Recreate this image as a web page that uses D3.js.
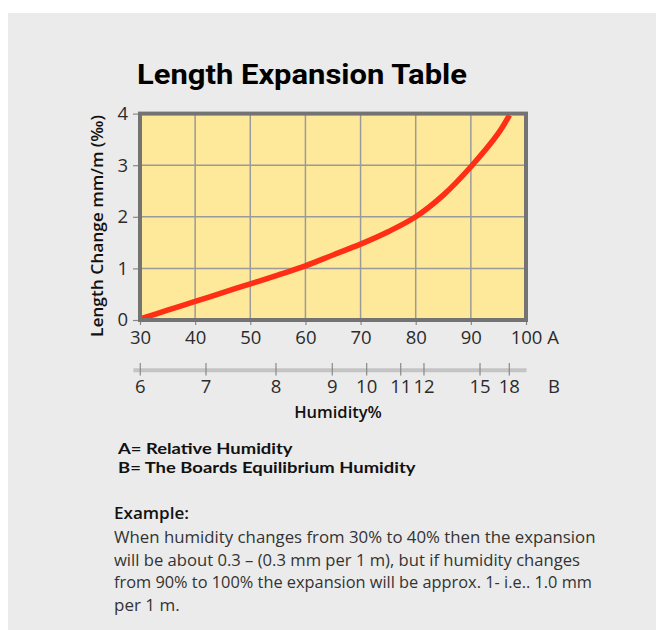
<!DOCTYPE html>
<html>
<head>
<meta charset="utf-8">
<script src="https://cdn.jsdelivr.net/npm/d3@7"></script>
<style>
  html, body { margin: 0; padding: 0; background: #ffffff; }
  svg { display: block; }
</style>
</head>
<body>
<svg id="chart" width="656" height="630"></svg>
<script>
// ---- data ----
const titleText = "Length Expansion Table";
const yLabelText = "Length Change mm/m (‰)";
const xLabelText = "Humidity%";
const relHumidity = [30, 35, 40, 45, 50, 55, 60, 65, 70, 75, 80, 85, 90, 95, 97];
const lengthChange = [0.02, 0.19, 0.36, 0.53, 0.70, 0.87, 1.05, 1.26, 1.47, 1.71, 2.00, 2.42, 2.97, 3.62, 3.97];
const aTicks = [30, 40, 50, 60, 70, 80, 90, 100];
const yTicks = [0, 1, 2, 3, 4];
const bTickLabels = [6, 7, 8, 9, 10, 11, 12, 15, 18];
const bTickAtRH = [30.05, 41.97, 54.66, 64.87, 71.11, 77.28, 81.5, 91.66, 96.97];
const bAxisRange = [28.8, 100.1];
const legendLines = ["A= Relative Humidity", "B= The Boards Equilibrium Humidity"];
const exampleTitle = "Example:";
const exampleLines = [
  "When humidity changes from 30% to 40% then the expansion",
  "will be about 0.3 – (0.3 mm per 1 m), but if humidity changes",
  "from 90% to 100% the expansion will be approx. 1- i.e.. 1.0 mm",
  "per 1 m."
];

// ---- drawing ----
const svg = d3.select("#chart");
const tickFont = "'Open Sans', sans-serif";

svg.append("rect").attr("x", 8).attr("y", 13).attr("width", 648).attr("height", 617).attr("fill", "#ebebeb");

const x = d3.scaleLinear().domain([30, 100]).range([140, 526]);
const y = d3.scaleLinear().domain([0, 4]).range([320, 113.6]);

// title
svg.append("text").attr("x", 137).attr("y", 84)
  .attr("font-family", "Roboto, sans-serif").attr("font-weight", 700).attr("font-size", 28)
  .attr("fill", "#000").attr("textLength", 330).attr("lengthAdjust", "spacingAndGlyphs")
  .text(titleText);

// plot background
svg.append("rect").attr("x", x(30)).attr("y", y(4)).attr("width", x(100) - x(30)).attr("height", y(0) - y(4))
  .attr("fill", "#fee99b");

// grid
const grid = svg.append("g").attr("stroke", "#9a9a9a").attr("stroke-width", 1.5);
grid.selectAll("line.v").data(aTicks.slice(1, -1)).join("line").attr("class", "v")
  .attr("x1", d => x(d)).attr("x2", d => x(d)).attr("y1", y(4)).attr("y2", y(0));
grid.selectAll("line.h").data(yTicks.slice(1, -1)).join("line").attr("class", "h")
  .attr("x1", x(30)).attr("x2", x(100)).attr("y1", d => y(d)).attr("y2", d => y(d));

// curve
const line = d3.line().x((d, i) => x(relHumidity[i])).y(d => y(d)).curve(d3.curveCatmullRom.alpha(0.5));
svg.append("path").datum(lengthChange).attr("d", line)
  .attr("fill", "none").attr("stroke", "#ff2e14").attr("stroke-width", 5.5);

// frame
svg.append("rect").attr("x", x(30)).attr("y", y(4)).attr("width", x(100) - x(30)).attr("height", y(0) - y(4))
  .attr("fill", "none").attr("stroke", "#737373").attr("stroke-width", 4);

// y axis
const yAxis = svg.append("g").attr("transform", `translate(${x(30) - 2},0)`)
  .call(d3.axisLeft(y).tickValues(yTicks).tickSize(5).tickPadding(5).tickFormat(d3.format("d")));
yAxis.select(".domain").remove();
yAxis.selectAll(".tick line").attr("stroke", "#888").attr("stroke-width", 1.2);
yAxis.selectAll(".tick text").attr("font-family", tickFont).attr("font-weight", 500).attr("font-size", 18.5).attr("fill", "#2b2b2b");

// A axis (x)
const xAxis = svg.append("g").attr("transform", `translate(0,${y(0) + 2})`)
  .call(d3.axisBottom(x).tickValues(aTicks).tickSize(3).tickPadding(6).tickFormat(d3.format("d")));
xAxis.select(".domain").remove();
xAxis.selectAll(".tick line").attr("stroke", "#888").attr("stroke-width", 1.2);
xAxis.selectAll(".tick text").attr("font-family", tickFont).attr("font-weight", 500).attr("font-size", 18.5).attr("fill", "#2b2b2b");
svg.append("text").attr("x", 553).attr("y", 343.5).attr("text-anchor", "middle")
  .attr("font-family", tickFont).attr("font-weight", 500).attr("font-size", 18.5).attr("fill", "#2b2b2b").text("A");

// B axis
svg.append("line").attr("x1", x(bAxisRange[0])).attr("x2", x(bAxisRange[1])).attr("y1", 370.3).attr("y2", 370.3)
  .attr("stroke", "#c4c4c4").attr("stroke-width", 4);
const bG = svg.append("g");
bG.selectAll("line").data(bTickAtRH).join("line")
  .attr("x1", d => x(d)).attr("x2", d => x(d)).attr("y1", 363).attr("y2", 375.5)
  .attr("stroke", "#888").attr("stroke-width", 1.2);
bG.selectAll("text").data(bTickLabels).join("text")
  .attr("x", (d, i) => x(bTickAtRH[i])).attr("y", 393).attr("text-anchor", "middle")
  .attr("font-family", tickFont).attr("font-weight", 500).attr("font-size", 18.5).attr("fill", "#2b2b2b").text(d => d);
svg.append("text").attr("x", 554).attr("y", 393).attr("text-anchor", "middle")
  .attr("font-family", tickFont).attr("font-weight", 500).attr("font-size", 18.5).attr("fill", "#2b2b2b").text("B");

// axis labels
svg.append("text").attr("x", 338).attr("y", 418).attr("text-anchor", "middle")
  .attr("font-family", tickFont).attr("font-weight", 600).attr("font-size", 16.5).attr("fill", "#111")
  .text(xLabelText);
svg.append("text").attr("transform", "translate(102.5,226) rotate(-90)").attr("text-anchor", "middle")
  .attr("font-family", tickFont).attr("font-weight", 600).attr("font-size", 16).attr("fill", "#111")
  .attr("textLength", 222).attr("lengthAdjust", "spacingAndGlyphs")
  .text(yLabelText);

// legend
const legendWidths = [174.5, 297.5];
svg.selectAll("text.legend").data(legendLines).join("text").attr("class", "legend")
  .attr("x", 118).attr("y", (d, i) => 453.5 + i * 19)
  .attr("font-family", "Lato, sans-serif").attr("font-weight", 700).attr("font-size", 15.5).attr("fill", "#111")
  .attr("textLength", (d, i) => legendWidths[i]).attr("lengthAdjust", "spacingAndGlyphs")
  .text(d => d);

// example
svg.append("text").attr("x", 114).attr("y", 519)
  .attr("font-family", tickFont).attr("font-weight", 600).attr("font-size", 16.5).attr("fill", "#111")
  .attr("textLength", 75).attr("lengthAdjust", "spacingAndGlyphs")
  .text(exampleTitle);
const exWidths = [481.5, 466, 478, null];
svg.selectAll("text.ex").data(exampleLines).join("text").attr("class", "ex")
  .attr("x", 114).attr("y", (d, i) => 543 + i * 22.7)
  .attr("font-family", tickFont).attr("font-weight", 400).attr("font-size", 17).attr("fill", "#333")
  .each(function(d, i) {
    if (exWidths[i]) d3.select(this).attr("textLength", exWidths[i]).attr("lengthAdjust", "spacingAndGlyphs");
  })
  .text(d => d);
</script>
</body>
</html>
